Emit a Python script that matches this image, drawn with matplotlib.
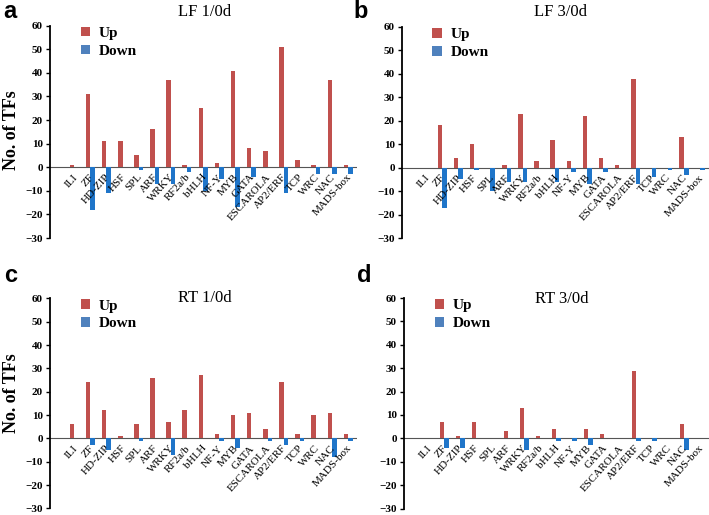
import numpy as np
import matplotlib.pyplot as plt
from matplotlib.patches import Patch

plt.rcParams.update({
    "font.family": "Liberation Serif",
    "font.size": 8,
})

UP_COLOR = "#C0504D"
DOWN_COLOR = "#1F75C9"
LEG_DOWN = "#4F81BD"

families = ["ILI", "ZF", "HD-ZIP", "HSF", "SPL", "ARF", "WRKY", "RF2a/b", "bHLH",
            "NF-Y", "MYB", "GATA", "ESCAROLA", "AP2/ERF", "TCP", "WRC", "NAC", "MADS-box"]

# ── counts per panel ─────────────────────────────────────────────────────────
lf1_up   = [1, 31, 11, 11, 5, 16, 37, 1, 25, 2, 41, 8, 7, 51, 3, 1, 37, 1]
lf1_down = [0, -18, -11, 0, -1, -7, -7, -2, -10, -5, -17, -4, 0, -11, 0, -3, -3, -3]

lf3_up   = [0, 18, 4, 10, 0, 1, 23, 3, 12, 3, 22, 4, 1, 38, 0, 0, 13, 0]
lf3_down = [0, -17, -5, -1, -10, -6, -6, 0, -6, -2, -7, -2, 0, -7, -4, -1, -3, -1]

rt1_up   = [6, 24, 12, 1, 6, 26, 7, 12, 27, 2, 10, 11, 4, 24, 2, 10, 11, 2]
rt1_down = [0, -3, -5, 0, -1, 0, -7, 0, 0, -1, -4, 0, -1, -3, -1, 0, -8, -1]

rt3_up   = [0, 7, 1, 7, 0, 3, 13, 1, 4, 0, 4, 2, 0, 29, 0, 0, 6, 0]
rt3_down = [0, -4, -4, 0, 0, 0, -5, 0, -1, -1, -3, 0, 0, -1, -1, 0, -5, 0]

fig = plt.figure(figsize=(7.09, 5.15), dpi=100)

W, H = 709, 515
def px_axes(left, right, top, bottom):
    return [left / W, 1 - bottom / H, (right - left) / W, (bottom - top) / H]

panels = [
    ("a", "LF 1/0d", lf1_up, lf1_down, px_axes(50, 357, 25.7, 238),
     (10, 12), (205, 12), True),
    ("b", "LF 3/0d", lf3_up, lf3_down, px_axes(401.7, 709, 27, 238),
     (361, 12), (560, 12), False),
    ("c", "RT 1/0d", rt1_up, rt1_down, px_axes(50, 357, 298.3, 508.5),
     (11, 275), (205, 298), True),
    ("d", "RT 3/0d", rt3_up, rt3_down, px_axes(404, 709, 298, 508.5),
     (364, 275), (562, 299), False),
]

x = np.arange(len(families))
bw = 0.28

for letter, title, up, down, rect, lpos, tpos, ylab in panels:
    ax = fig.add_axes(rect)
    ax.bar(x - bw / 2, up, width=bw, color=UP_COLOR, zorder=2)
    ax.bar(x + bw / 2, down, width=bw, color=DOWN_COLOR, zorder=2)
    ax.axhline(0, color="#555555", lw=0.8, zorder=1)

    ax.set_xlim(-1.5, 17.55)
    ax.set_ylim(-30, 60)
    ax.set_yticks(range(-30, 61, 10))
    for lab in ax.get_yticklabels():
        lab.set_fontweight("bold")
        lab.set_fontsize(8)
    ax.tick_params(axis="y", direction="out", length=3, width=1, pad=2)
    ax.set_xticks([])
    for s in ["top", "right", "bottom"]:
        ax.spines[s].set_visible(False)
    ax.spines["left"].set_linewidth(1.3)
    ax.patch.set_alpha(0)

    for i, name in enumerate(families):
        ax.text(i - 0.1, -2.2, name, rotation=48, ha="right", va="top",
                rotation_mode="anchor", fontsize=8, zorder=3)

    handles = [Patch(facecolor=UP_COLOR, label="Up"),
               Patch(facecolor=LEG_DOWN, label="Down")]
    ax.legend(handles=handles, loc="upper left", bbox_to_anchor=(0.055, 1.06),
              frameon=False, handlelength=0.6, handleheight=0.6,
              handletextpad=0.6, labelspacing=0.3,
              prop={"family": "Liberation Serif", "weight": "bold", "size": 11})

    if ylab:
        fig.text(12 / W, 1 - (lpos[1] + 118) / H, "No. of TFs", rotation=90,
                 ha="center", va="center", fontsize=13, fontweight="bold")

    fig.text(lpos[0] / W, 1 - lpos[1] / H, letter, ha="center", va="center",
             fontsize=17, fontweight="bold", family="Liberation Sans")
    fig.text(tpos[0] / W, 1 - tpos[1] / H, title, ha="center", va="center",
             fontsize=12)

fig.savefig("out.png", dpi=100)
